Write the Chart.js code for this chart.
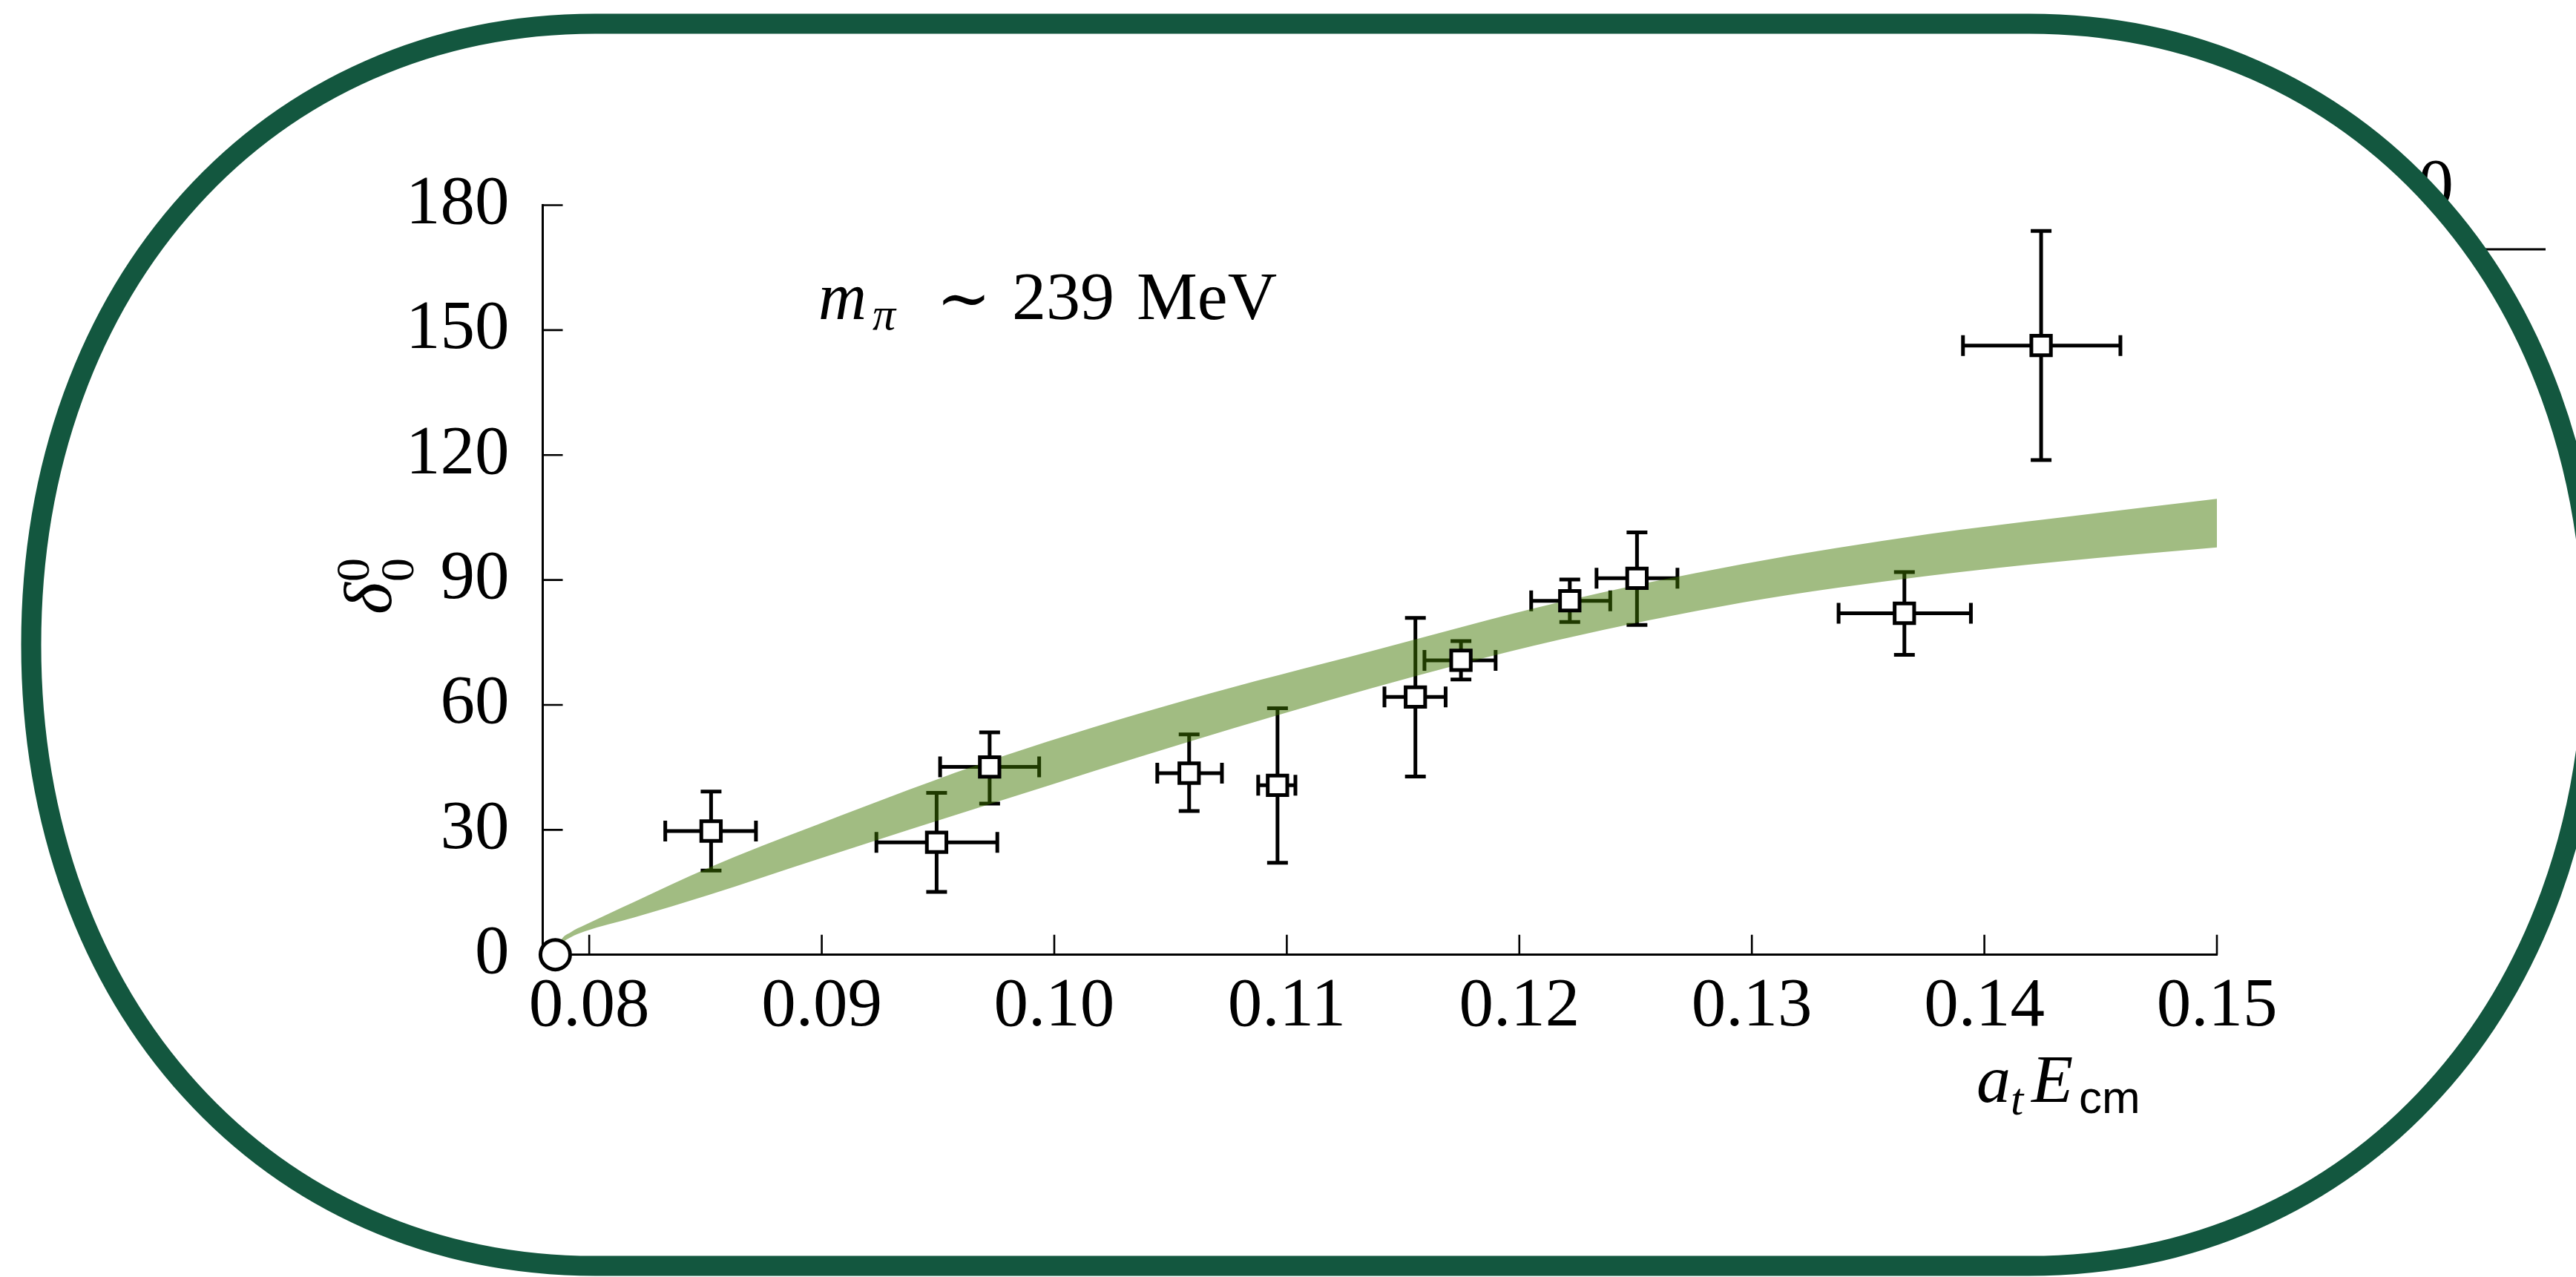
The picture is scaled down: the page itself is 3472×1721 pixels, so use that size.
<!DOCTYPE html>
<html>
<head>
<meta charset="utf-8">
<script src="https://cdn.jsdelivr.net/npm/chart.js@4.4.1/dist/chart.umd.min.js"></script>
<style>
  html, body { margin: 0; padding: 0; background: #fff; }
  #wrap { width: 3472px; height: 1721px; position: relative; }
</style>
</head>
<body>
<div id="wrap"><canvas id="phaseChart"></canvas></div>
<script>
// lattice points: a_t E_cm with horizontal errors, delta_0^0 with vertical errors
var phaseX   = [0.08524, 0.09494, 0.09722, 0.10580, 0.10960, 0.11553, 0.11749, 0.12217, 0.12506, 0.13656, 0.14244];
var phaseXLo = [0.08327, 0.09235, 0.09509, 0.10443, 0.10877, 0.11420, 0.11592, 0.12051, 0.12332, 0.13373, 0.13908];
var phaseXHi = [0.08717, 0.09755, 0.09935, 0.10721, 0.11037, 0.11683, 0.11898, 0.12391, 0.12680, 0.13942, 0.14585];
var phaseY   = [29.7, 27.0, 45.1, 43.6, 40.7, 61.9, 70.7, 85.0, 90.4, 82.0, 146.3];
var phaseYLo = [20.2, 15.1, 36.3, 34.5, 22.1, 42.8, 66.1, 79.9, 79.2, 72.0, 118.8];
var phaseYHi = [39.2, 38.9, 53.4, 52.9, 59.2, 80.9, 75.3, 90.1, 101.4, 91.9, 173.8];

// fit band
var bandX  = [0.07854, 0.0788, 0.0792, 0.0798, 0.0819, 0.0851, 0.0898, 0.0977, 0.1057, 0.1137, 0.1216, 0.1296, 0.1376, 0.1430, 0.1500];
var bandHi = [0, 3.6, 5.4, 7.1, 12.6, 20.8, 31.2, 47.5, 61.2, 73.0, 84.5, 93.8, 101.0, 104.8, 109.5];
var bandLo = [0, 2.6, 4.2, 5.6, 8.9, 14.3, 22.9, 37.0, 51.0, 64.1, 75.5, 84.6, 91.0, 94.3, 97.8];

// threshold marker
var thresholdX = [0.07854];
var thresholdY = [0];

// axis ticks
var xTicks = [0.08, 0.09, 0.10, 0.11, 0.12, 0.13, 0.14, 0.15];
var yTicks = [0, 30, 60, 90, 120, 150, 180];

function pts(xs, ys) {
    return xs.map(function (v, i) { return { x: v, y: ys[i] }; });
}

var SERIF = '"Liberation Serif", "DejaVu Serif", serif';

// white page, leftover bits of the neighbouring panel
var background = {
    id: 'background',
    beforeDraw: function (chart) {
        var ctx = chart.ctx;
        ctx.save();
        ctx.fillStyle = '#fff';
        ctx.fillRect(0, 0, chart.width, chart.height);
        ctx.fillStyle = '#000';
        ctx.font = '96px ' + SERIF;
        ctx.textBaseline = 'alphabetic';
        ctx.fillText('0', 3259, 280);
        ctx.strokeStyle = '#000';
        ctx.lineWidth = 3;
        ctx.beginPath();
        ctx.moveTo(3345, 336);
        ctx.lineTo(3431, 336);
        ctx.stroke();
        ctx.restore();
    }
};

// inward tick marks + error bars, under the band and markers
var errorBars = {
    id: 'errorBars',
    beforeDatasetsDraw: function (chart) {
        var ctx = chart.ctx, x = chart.scales.x, y = chart.scales.y, area = chart.chartArea;
        ctx.save();
        ctx.strokeStyle = '#000';
        ctx.lineWidth = 2.6;
        ctx.beginPath();
        x.ticks.forEach(function (t) {
            var p = x.getPixelForValue(t.value);
            ctx.moveTo(p, area.bottom);
            ctx.lineTo(p, area.bottom - 27);
        });
        y.ticks.forEach(function (t) {
            var p = y.getPixelForValue(t.value);
            ctx.moveTo(area.left, p);
            ctx.lineTo(area.left + 27, p);
        });
        ctx.stroke();

        var cap = 14;
        ctx.lineWidth = 5;
        for (var i = 0; i < phaseX.length; i++) {
            var px = x.getPixelForValue(phaseX[i]);
            var py = y.getPixelForValue(phaseY[i]);
            var x0 = x.getPixelForValue(phaseXLo[i]);
            var x1 = x.getPixelForValue(phaseXHi[i]);
            var y0 = y.getPixelForValue(phaseYLo[i]);
            var y1 = y.getPixelForValue(phaseYHi[i]);
            ctx.beginPath();
            ctx.moveTo(x0, py); ctx.lineTo(x1, py);
            ctx.moveTo(px, y0); ctx.lineTo(px, y1);
            ctx.moveTo(x0, py - cap); ctx.lineTo(x0, py + cap);
            ctx.moveTo(x1, py - cap); ctx.lineTo(x1, py + cap);
            ctx.moveTo(px - cap, y0); ctx.lineTo(px + cap, y0);
            ctx.moveTo(px - cap, y1); ctx.lineTo(px + cap, y1);
            ctx.stroke();
        }
        ctx.restore();
    }
};

// math labels and the rounded frame
var labels = {
    id: 'labels',
    afterDraw: function (chart) {
        var ctx = chart.ctx;
        ctx.save();
        ctx.fillStyle = '#000';
        ctx.textBaseline = 'alphabetic';
        ctx.textAlign = 'left';

        // m_pi ~ 239 MeV
        ctx.font = 'italic 90px ' + SERIF;
        ctx.fillText('m', 1103, 430);
        ctx.font = 'italic 62px ' + SERIF;
        ctx.fillText('\u03C0', 1176, 444);
        ctx.font = '88px "DejaVu Serif", serif';
        ctx.fillText('\u223C', 1262, 432);
        ctx.font = '92px ' + SERIF;
        ctx.fillText('239', 1364, 430);
        ctx.fillText('MeV', 1532, 430);

        // a_t E_cm
        ctx.font = 'italic 92px ' + SERIF;
        ctx.fillText('a', 2664, 1485);
        ctx.fillText('E', 2738, 1485);
        ctx.font = 'italic 62px ' + SERIF;
        ctx.fillText('t', 2710, 1502);
        ctx.font = '62px "Liberation Sans", "DejaVu Sans", sans-serif';
        ctx.fillText('cm', 2802, 1500);

        // delta_0^0, rotated
        ctx.save();
        ctx.translate(527, 828);
        ctx.rotate(-Math.PI / 2);
        ctx.font = 'italic 92px ' + SERIF;
        ctx.fillText('\u03B4', 0, 0);
        ctx.font = '64px ' + SERIF;
        ctx.fillText('0', 44, -30);
        ctx.fillText('0', 44, 30);
        ctx.restore();

        // frame
        var L = 42, R = 3495, T = 32, B = 1706, rx = 760, ry = (B - T) / 2, k = 0.58;
        ctx.strokeStyle = '#13573f';
        ctx.lineWidth = 27;
        ctx.beginPath();
        ctx.moveTo(L + rx, T);
        ctx.lineTo(R - rx, T);
        ctx.bezierCurveTo(R - rx * (1 - k), T, R, T + ry * (1 - k), R, T + ry);
        ctx.bezierCurveTo(R, B - ry * (1 - k), R - rx * (1 - k), B, R - rx, B);
        ctx.lineTo(L + rx, B);
        ctx.bezierCurveTo(L + rx * (1 - k), B, L, B - ry * (1 - k), L, B - ry);
        ctx.bezierCurveTo(L, T + ry * (1 - k), L + rx * (1 - k), T, L + rx, T);
        ctx.closePath();
        ctx.stroke();
        ctx.restore();
    }
};

document.addEventListener('DOMContentLoaded', function () {
    Chart.defaults.font.family = SERIF;
    Chart.defaults.color = '#000';

    var ctx = document.getElementById('phaseChart').getContext('2d');
    var phaseChart = new Chart(ctx, {
        type: 'line',
        data: {
            datasets: [{
                label: 'fit upper',
                data: pts(bandX, bandHi),
                fill: '+1',
                backgroundColor: 'rgba(63, 118, 0, 0.49)',
                borderColor: 'rgba(0, 0, 0, 0)',
                borderWidth: 0,
                pointRadius: 0,
                cubicInterpolationMode: 'monotone',
                order: 3
            }, {
                label: 'fit lower',
                data: pts(bandX, bandLo),
                fill: false,
                borderColor: 'rgba(0, 0, 0, 0)',
                borderWidth: 0,
                pointRadius: 0,
                cubicInterpolationMode: 'monotone',
                order: 3
            }, {
                label: 'lattice',
                data: pts(phaseX, phaseY),
                showLine: false,
                pointStyle: 'rect',
                pointRadius: 18.6,
                pointBorderWidth: 5,
                pointBackgroundColor: '#fff',
                pointBorderColor: '#000',
                clip: false,
                order: 1
            }, {
                label: 'threshold',
                data: pts(thresholdX, thresholdY),
                showLine: false,
                pointStyle: 'circle',
                pointRadius: 20,
                pointBorderWidth: 5,
                pointBackgroundColor: '#fff',
                pointBorderColor: '#000',
                clip: false,
                order: 0
            }]
        },
        options: {
            responsive: true,
            maintainAspectRatio: false,
            animation: false,
            events: [],
            layout: { padding: { top: 276.5, right: 484, bottom: 0, left: 0 } },
            plugins: {
                legend: { display: false },
                tooltip: { enabled: false }
            },
            scales: {
                x: {
                    type: 'linear',
                    min: 0.078,
                    max: 0.15,
                    afterBuildTicks: function (s) { s.ticks = xTicks.map(function (v) { return { value: v }; }); },
                    afterFit: function (s) { s.height = 434.3; },
                    grid: { drawOnChartArea: false, drawTicks: false },
                    border: { color: '#000', width: 3 },
                    ticks: {
                        autoSkip: false,
                        maxRotation: 0,
                        padding: 15,
                        color: '#000',
                        font: { size: 93 },
                        callback: function (v) { return v.toFixed(2); }
                    }
                },
                y: {
                    type: 'linear',
                    min: 0,
                    max: 180,
                    afterBuildTicks: function (s) { s.ticks = yTicks.map(function (v) { return { value: v }; }); },
                    afterFit: function (s) { s.width = 731.5; },
                    grid: { drawOnChartArea: false, drawTicks: false },
                    border: { color: '#000', width: 3 },
                    ticks: {
                        padding: 45,
                        color: '#000',
                        font: { size: 93 },
                        callback: function (v) { return String(v); }
                    }
                }
            }
        },
        plugins: [background, errorBars, labels]
    });
});
</script>
</body>
</html>
